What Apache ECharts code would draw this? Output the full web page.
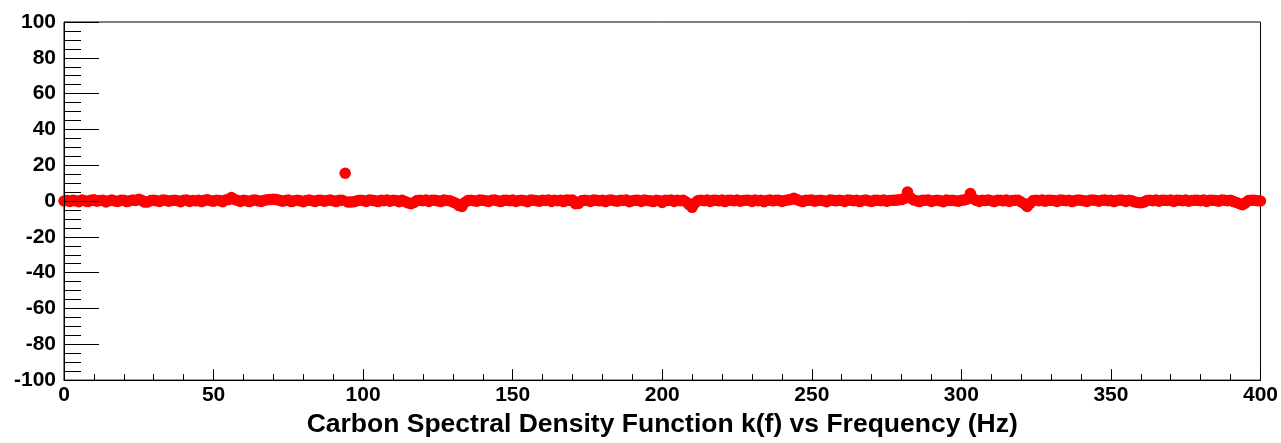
<!DOCTYPE html>
<html>
<head>
<meta charset="utf-8">
<script src="https://cdn.jsdelivr.net/npm/echarts@6/dist/echarts.min.js"></script>
<style>
html,body{margin:0;padding:0;background:#fff;}
#chart{width:1281px;height:443px;}
</style>
</head>
<body>
<div id="chart"></div>
<script>
// Frequency (Hz), 1 Hz steps 0..400
const freqStart = 0;
const freqStep = 1;
// k(f) values
const kValues = [
 0, 0.3, -0.2, 0.5, 0.1, -0.4, 0.6, 0.2, -0.3, 0.4, 0.7, -0.1, 0.3, 0.5, -0.5, 0.2, 0.6, 0.0, -0.2, 0.4,
 0.5, -0.3, 0.2, 0.6, 0.3, 1.0, 0.4, -0.6, -0.5, 0.3, 0.5, 0.1, -0.2, 0.6, 0.4, -0.1, 0.3, 0.5, 0.2, -0.4,
 0.4, 0.6, -0.2, 0.3, 0.1, 0.5, -0.3, 0.4, 0.7, 0.2, -0.1, 0.5, 0.3, -0.4, 0.6, 0.8, 2.0, 0.9, 0.3, -0.2,
 0.5, 0.2, -0.3, 0.4, 0.6, 0.1, -0.2, 0.5, 0.7, 0.8, 1.0, 0.9, 0.4, -0.1, 0.3, 0.6, -0.3, 0.2, 0.5, 0.1,
 -0.4, 0.3, 0.6, 0.2, -0.2, 0.5, 0.4, -0.1, 0.3, 0.6, 0.2, -0.3, 0.4, 0.5, 15.5, -0.6, -0.5, -0.4, 0.2, 0.5,
 0.3, -0.2, 0.6, 0.4, 0.1, -0.3, 0.5, 0.2, 0.6, -0.1, 0.4, 0.3, -0.4, 0.5, -0.2, -1.0, -1.5, -0.8, 0.3, 0.5,
 0.2, 0.6, -0.2, 0.4, 0.5, 0.1, -0.3, 0.6, 0.3, 0.2, -0.5, -1.2, -2.5, -3.0, -0.8, 0.3, 0.5, 0.2, -0.1, 0.6,
 0.4, 0.2, -0.2, 0.5, 0.6, 0.1, -0.3, 0.4, 0.5, 0.2, 0.6, -0.2, 0.3, 0.5, 0.1, -0.4, 0.6, 0.4, 0.2, -0.1,
 0.5, 0.3, 0.6, -0.2, 0.4, 0.2, 0.5, -0.3, 0.6, 0.4, 0.6, -1.5, -1.3, 0.2, 0.5, 0.3, -0.2, 0.6, 0.4, 0.1,
 0.5, -0.3, 0.4, 0.6, 0.2, -0.1, 0.5, 0.3, 0.6, -0.4, 0.2, 0.5, 0.4, -0.2, 0.6, 0.3, 0.1, -0.3, 0.5, 0.2,
 -0.8, 0.4, 0.3, 0.6, -0.2, 0.5, 0.2, 0.4, -0.5, -2.0, -3.5, -1.0, 0.3, 0.5, 0.2, 0.6, -0.2, 0.4, 0.5, 0.1,
 0.6, -0.3, 0.4, 0.5, 0.2, 0.6, -0.1, 0.3, 0.5, 0.4, -0.2, 0.6, 0.2, 0.5, -0.4, 0.3, 0.6, 0.1, 0.4, 0.5,
 -0.2, 0.3, 0.6, 0.9, 1.5, 0.8, 0.2, -0.3, 0.5, 0.4, 0.6, -0.1, 0.3, 0.5, 0.2, -0.4, 0.6, 0.4, 0.1, 0.5,
 0.3, -0.2, 0.6, 0.4, 0.2, 0.5, -0.3, 0.3, 0.6, 0.1, -0.2, 0.4, 0.5, 0.2, 0.6, -0.1, 0.3, 0.5, 0.4, 0.7,
 0.8, 1.5, 5.0, 1.8, 0.6, 0.2, -0.3, 0.5, 0.4, 0.6, -0.2, 0.3, 0.5, 0.1, -0.4, 0.6, 0.3, 0.5, 0.2, -0.1,
 0.5, 0.6, 1.2, 4.2, 1.3, 0.4, -0.2, 0.5, 0.3, 0.6, 0.2, -0.3, 0.4, 0.5, 0.1, 0.6, -0.2, 0.3, 0.5, 0.4,
 -0.5, -1.5, -3.0, -1.2, 0.3, 0.5, 0.2, 0.6, -0.1, 0.4, 0.5, 0.3, -0.2, 0.6, 0.4, 0.2, 0.5, -0.3, 0.3, 0.6,
 0.4, 0.1, -0.2, 0.5, 0.6, 0.3, -0.1, 0.4, 0.6, 0.2, 0.5, -0.3, 0.3, 0.6, 0.4, -0.2, 0.5, 0.2, -0.5, -0.8,
 -1.0, -0.6, 0.3, 0.5, 0.2, 0.6, -0.1, 0.4, 0.5, 0.3, 0.6, -0.2, 0.4, 0.5, 0.2, 0.6, -0.1, 0.3, 0.5, 0.4,
 0.2, 0.6, -0.2, 0.4, 0.5, 0.3, -0.1, 0.6, 0.4, 0.2, 0.5, -0.3, -0.8, -1.5, -2.0, -1.0, 0.3, 0.5, 0.4, 0.2,
 0.0
];
const xAxisTitle = 'Carbon Spectral Density Function k(f) vs Frequency (Hz)';
const xTickLabels = ['0','50','100','150','200','250','300','350','400'];
const yTickLabels = ['-100','-80','-60','-40','-20','0','20','40','60','80','100'];

const points = kValues.map((v, i) => [freqStart + i * freqStep, v]);

const font = '"Liberation Sans", Arial, Helvetica, sans-serif';
const chart = echarts.init(document.getElementById('chart'), null, {renderer: 'canvas'});
chart.setOption({
  animation: false,
  backgroundColor: '#fff',
  grid: {left: 64, right: 20, top: 22, bottom: 61, show: true, borderColor: '#000', borderWidth: 1, backgroundColor: 'transparent'},
  xAxis: {
    type: 'value', min: 0, max: 400, interval: 50, z: 10,
    name: xAxisTitle, nameLocation: 'middle', nameGap: 29,
    nameTextStyle: {fontFamily: font, fontWeight: 'bold', fontSize: 26.5, color: '#000'},
    axisLine: {show: true, onZero: false, lineStyle: {color: '#000', width: 1}},
    axisTick: {show: true, inside: true, length: 11, lineStyle: {color: '#000', width: 1}},
    minorTick: {show: true, splitNumber: 5, length: 6, lineStyle: {color: '#000', width: 1}},
    splitLine: {show: false},
    axisLabel: {fontFamily: font, fontWeight: 'bold', fontSize: 21, color: '#000', margin: 5,
      formatter: v => xTickLabels[Math.round(v / 50)] ?? ''}
  },
  yAxis: {
    type: 'value', min: -100, max: 100, interval: 20, z: 10,
    axisLine: {show: true, onZero: false, lineStyle: {color: '#000', width: 1}},
    axisTick: {show: true, inside: true, length: 35, lineStyle: {color: '#000', width: 1}},
    minorTick: {show: true, splitNumber: 4, length: 17, lineStyle: {color: '#000', width: 1}},
    splitLine: {show: false},
    axisLabel: {fontFamily: font, fontWeight: 'bold', fontSize: 21, color: '#000', margin: 8,
      formatter: v => yTickLabels[Math.round((v + 100) / 20)] ?? ''}
  },
  series: [{
    type: 'scatter',
    data: points,
    symbol: 'circle',
    symbolSize: 11.5,
    clip: false,
    itemStyle: {color: '#ff0000', opacity: 1},
    z: 2
  }]
});
</script>
</body>
</html>
